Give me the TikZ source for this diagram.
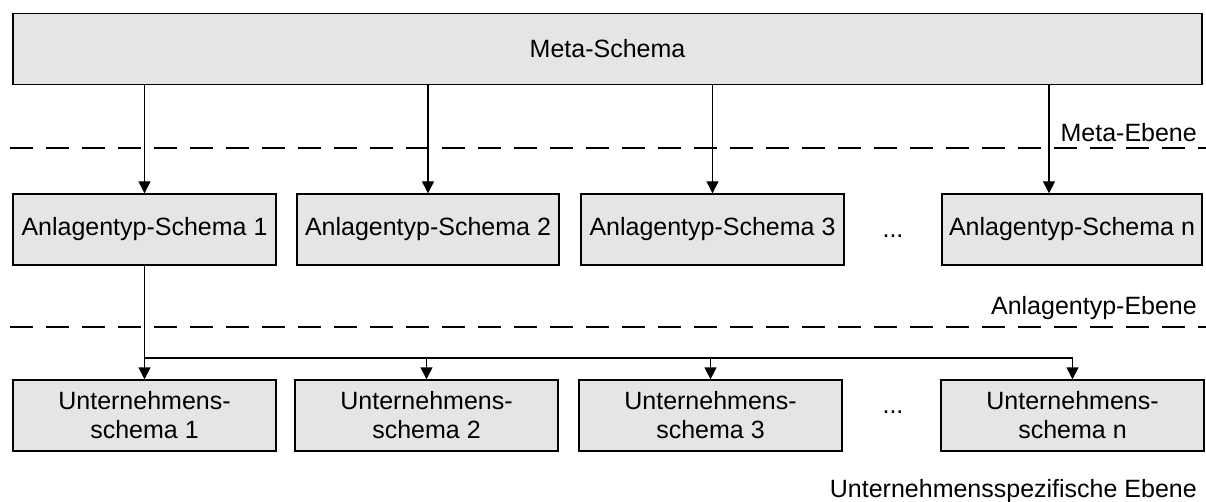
\documentclass[tikz,border=0pt]{standalone}
\usepackage{fontspec}
\setmainfont{Liberation Sans}
\usetikzlibrary{arrows.meta}

\begin{document}
\begin{tikzpicture}[x=1pt,y=-1pt,
		box/.style={draw,line width=1.4pt,fill=black!10,minimum height=71pt,inner sep=0pt,align=center,font=\fontsize{25}{29}\selectfont},
		level/.style={font=\fontsize{25}{29}\selectfont,inner sep=0pt},
		conn/.style={line width=1.4pt,-{Triangle[length=12pt,width=12pt]}},
		sep/.style={line width=1.4pt,dash pattern=on 23pt off 13pt}]
			\useasboundingbox (0,0) rectangle (1206,502);
			% schema boxes
			\node[box,minimum width=1189pt] (meta) at (607.5,49) {Meta-Schema};
			\node[box,minimum width=263pt] (a1) at (144.5,229.5) {Anlagentyp-Schema 1};
			\node[box,minimum width=262pt] (a2) at (428,229.5) {Anlagentyp-Schema 2};
			\node[box,minimum width=263pt] (a3) at (712.5,229.5) {Anlagentyp-Schema 3};
			\node[box,minimum width=260pt] (an) at (1072,229.5) {Anlagentyp-Schema n};
			\node[box,minimum width=263pt] (u1) at (144.5,415.5) {Unternehmens-\\schema 1};
			\node[box,minimum width=263pt] (u2) at (426.5,415.5) {Unternehmens-\\schema 2};
			\node[box,minimum width=263pt] (u3) at (710.5,415.5) {Unternehmens-\\schema 3};
			\node[box,minimum width=263pt] (un) at (1072.5,415.5) {Unternehmens-\\schema n};
			\node[level,anchor=base] (adots) at (893,238) {...};
			\node[level,anchor=base] (udots) at (893,413) {...};
			% levels
			\draw[sep] (10,148) -- (1206,148);
			\draw[sep] (10,327) -- (1206,327);
			\node[level,anchor=base east] (lmeta) at (1197,142) {Meta-Ebene};
			\node[level,anchor=base east] (lanl) at (1197,315) {Anlagentyp-Ebene};
			\node[level,anchor=base east] (lunt) at (1197,497) {Unternehmensspezifische Ebene};
			% arrows
			\draw[conn] (meta.south -| a1.north) -- (a1.north);
			\draw[conn] (meta.south -| a2.north) -- (a2.north);
			\draw[conn] (meta.south -| a3.north) -- (a3.north);
			\draw[conn] ([xshift=-23pt]an.north |- meta.south) -- ([xshift=-23pt]an.north);
			\draw[conn] (a1.south) -- (u1.north);
			\coordinate (bus) at (144.5,358);
			\draw[conn] (bus) -| (u2.north);
			\draw[conn] (bus) -| (u3.north);
			\draw[conn] (bus) -| (un.north);
		\end{tikzpicture}
\end{document}
